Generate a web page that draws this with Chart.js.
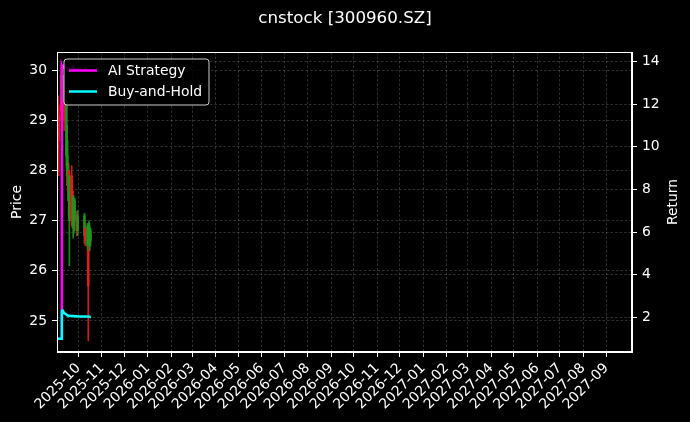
<!DOCTYPE html>
<html>
<head>
<meta charset="utf-8">
<script src="https://cdn.jsdelivr.net/npm/chart.js@4.4.0/dist/chart.umd.min.js"></script>
<style>
  html, body { margin: 0; padding: 0; background: #000; }
</style>
</head>
<body>
<canvas id="myChart" width="690" height="422"></canvas>
<script>
// trading days shown on the chart
const dates = ['2025-09-03','2025-09-04','2025-09-05','2025-09-08','2025-09-09','2025-09-10','2025-09-11','2025-09-12',
  '2025-09-15','2025-09-16','2025-09-17','2025-09-18','2025-09-19','2025-09-22','2025-09-23','2025-09-24','2025-09-25',
  '2025-09-26','2025-09-29','2025-09-30','2025-10-09','2025-10-10','2025-10-13','2025-10-14','2025-10-15','2025-10-16','2025-10-17'];
const openP  = [28.4,28.9,28.6,29.2,29.9,29.3,29.6,29.0,29.4,28.6,28.1,27.6,27.9,27.0,27.2,27.5,27.2,27.4,26.8,27.1,27.1,26.6,26.9,25.7,26.95,26.85,26.8];
const highP  = [29.1,29.5,29.3,30.1,30.0,29.8,29.9,29.6,29.5,28.9,28.3,28.15,28.0,28.1,27.75,27.5,27.25,27.45,27.2,27.2,27.15,26.95,26.95,26.95,27.0,26.9,26.85];
const lowP   = [28.1,28.6,27.9,29.0,29.2,29.0,29.1,28.8,28.1,27.7,27.4,27.1,26.1,26.9,26.85,26.65,26.75,26.8,26.7,26.7,26.55,26.5,26.4,24.6,26.55,26.4,26.5];
const closeP = [28.9,29.3,29.1,29.9,29.4,29.6,29.3,29.4,28.3,27.9,27.7,28.0,27.0,27.9,27.6,26.9,26.9,27.0,27.1,26.8,26.7,26.85,26.5,26.4,26.65,26.5,26.6];
const aiReturn = [1.0,1.0,1.0,1.0,13.8,13.7,13.75,13.8,13.7,13.65,13.7,13.7,13.65,13.6,13.7,13.65,13.7,13.65,13.6,13.65,13.6,13.65,13.6,13.55,13.6,13.6,13.55];
const bhReturn = [1.0,1.0,1.0,1.0,2.3,2.33,2.27,2.2,2.14,2.11,2.09,2.08,2.08,2.07,2.07,2.07,2.06,2.06,2.06,2.05,2.05,2.05,2.04,2.04,2.04,2.03,2.03];

// axis ticks
const monthLabels = ['2025-10','2025-11','2025-12','2026-01','2026-02','2026-03','2026-04','2026-05','2026-06','2026-07','2026-08','2026-09',
  '2026-10','2026-11','2026-12','2027-01','2027-02','2027-03','2027-04','2027-05','2027-06','2027-07','2027-08','2027-09'];
const priceTicks = [25, 26, 27, 28, 29, 30];
const returnTicks = [2, 4, 6, 8, 10, 12, 14];

const toMs = s => Date.parse(s + 'T00:00:00Z');
const xs = dates.map(toMs);
const monthMs = monthLabels.map(m => toMs(m + '-01'));

const RED = 'rgba(230,30,30,0.9)';
const GREEN = 'rgba(30,150,30,0.9)';
const candleColor = dates.map((d, i) => closeP[i] >= openP[i] ? RED : GREEN);

Chart.defaults.font.family = 'DejaVu Sans';
Chart.defaults.color = '#ffffff';

const gridOpts = {
  color: 'rgba(150,150,150,0.45)',
  lineWidth: 0.7,
  tickColor: '#ffffff',
  tickLength: 5,
  tickWidth: 1
};
const borderOpts = { color: '#ffffff', width: 1, dash: [2.5, 2] };

// legend box inside the plot (upper left), frame and right axis title
const insideLegend = {
  id: 'insideLegend',
  afterDatasetsDraw(chart) {
    const ctx = chart.ctx;
    const a = chart.chartArea;
    const x = a.left + 7, y = a.top + 7, w = 145, h = 46;
    ctx.save();
    ctx.beginPath();
    ctx.roundRect(x, y, w, h, 3);
    ctx.fillStyle = 'rgba(0,0,0,0.85)';
    ctx.fill();
    ctx.strokeStyle = '#cccccc';
    ctx.lineWidth = 1;
    ctx.stroke();
    const items = [['AI Strategy', '#ff00ff'], ['Buy-and-Hold', '#00ffff']];
    items.forEach((it, i) => {
      const cy = y + 11.5 + i * 21;
      ctx.strokeStyle = it[1];
      ctx.lineWidth = 2.5;
      ctx.beginPath();
      ctx.moveTo(x + 5, cy);
      ctx.lineTo(x + 33, cy);
      ctx.stroke();
      ctx.fillStyle = '#ffffff';
      ctx.font = '13.9px "DejaVu Sans"';
      ctx.textBaseline = 'middle';
      ctx.fillText(it[0], x + 44, cy + 0.5);
    });
    ctx.restore();
  },
  afterDraw(chart) {
    const a = chart.chartArea;
    const ctx = chart.ctx;
    ctx.save();
    ctx.strokeStyle = '#ffffff';
    ctx.lineWidth = 1;
    ctx.strokeRect(Math.round(a.left) + 0.5, Math.round(a.top) + 0.5, Math.round(a.right - a.left) - 1, Math.round(a.bottom - a.top) - 1);
    ctx.translate(chart.width - 17, (a.top + a.bottom) / 2);
    ctx.rotate(-Math.PI / 2);
    ctx.fillStyle = '#ffffff';
    ctx.font = '13.9px "DejaVu Sans"';
    ctx.textAlign = 'center';
    ctx.textBaseline = 'middle';
    ctx.fillText('Return', 0, 0);
    ctx.restore();
  }
};

new Chart(document.getElementById('myChart'), {
  type: 'bar',
  data: {
    datasets: [
      {
        label: 'wick',
        data: xs.map((x, i) => ({ x: x, y: [lowP[i], highP[i]] })),
        backgroundColor: candleColor,
        barThickness: 1,
        grouped: false,
        yAxisID: 'y',
        order: 4
      },
      {
        label: 'body',
        data: xs.map((x, i) => ({ x: x, y: [openP[i], closeP[i]] })),
        backgroundColor: candleColor,
        barThickness: 2,
        minBarLength: 1,
        grouped: false,
        yAxisID: 'y',
        order: 3
      },
      {
        type: 'line',
        label: 'AI Strategy',
        data: xs.map((x, i) => ({ x: x, y: aiReturn[i] })),
        borderColor: '#ff00ff',
        borderWidth: 2.5,
        pointRadius: 0,
        tension: 0,
        yAxisID: 'y2',
        order: 2
      },
      {
        type: 'line',
        label: 'Buy-and-Hold',
        data: xs.map((x, i) => ({ x: x, y: bhReturn[i] })),
        borderColor: '#00ffff',
        borderWidth: 2.5,
        pointRadius: 0,
        tension: 0,
        yAxisID: 'y2',
        order: 1
      }
    ]
  },
  options: {
    responsive: false,
    animation: false,
    layout: { padding: 0 },
    plugins: {
      legend: { display: false },
      tooltip: { enabled: false },
      title: {
        display: true,
        text: 'cnstock [300960.SZ]',
        color: '#ffffff',
        font: { size: 16.7, weight: 'normal' },
        padding: { top: 9, bottom: 22.96 }
      }
    },
    scales: {
      x: {
        type: 'linear',
        offset: false,
        min: Date.UTC(2025, 8, 2, 14),
        max: Date.UTC(2027, 9, 4, 17),
        afterBuildTicks: s => { s.ticks = monthMs.map(v => ({ value: v })); },
        afterFit: s => { s.height = 70; },
        ticks: {
          autoSkip: false,
          minRotation: 45,
          maxRotation: 45,
          padding: 3,
          font: { size: 13.9 },
          callback: v => monthLabels[monthMs.indexOf(v)]
        },
        grid: Object.assign({ offset: false }, gridOpts),
        border: borderOpts
      },
      y: {
        position: 'left',
        min: 24.379,
        max: 30.37,
        afterBuildTicks: s => { s.ticks = priceTicks.map(v => ({ value: v })); },
        afterFit: s => { s.width = 57; },
        ticks: { padding: 5, font: { size: 13.9 } },
        grid: gridOpts,
        border: borderOpts,
        title: { display: true, text: 'Price', font: { size: 13.9 }, padding: { top: 9, bottom: 0 } }
      },
      y2: {
        position: 'right',
        min: 0.381,
        max: 14.45,
        afterBuildTicks: s => { s.ticks = returnTicks.map(v => ({ value: v })); },
        afterFit: s => { s.width = 58; },
        ticks: { padding: 5, font: { size: 13.9 } },
        grid: gridOpts,
        border: borderOpts
      }
    }
  },
  plugins: [insideLegend]
});
</script>
</body>
</html>
